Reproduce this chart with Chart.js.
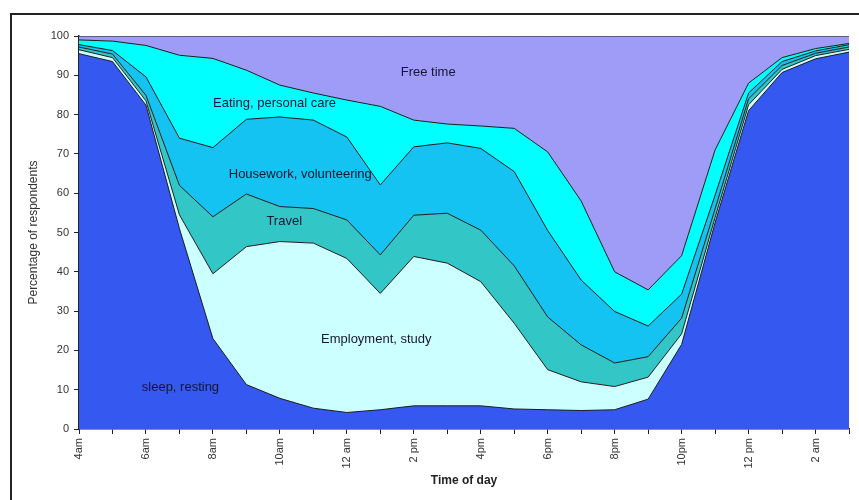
<!DOCTYPE html>
<html>
<head>
<meta charset="utf-8">
<script src="https://cdn.jsdelivr.net/npm/chart.js@4/dist/chart.umd.min.js"></script>
<style>
  html, body { margin: 0; padding: 0; background: #fff; overflow: hidden; }
  #wrap { position: relative; width: 859px; height: 500px; }
  #frame { position: absolute; left: 10px; top: 13px; width: 900px; height: 600px; border: 2px solid #222; box-sizing: border-box; }
  canvas { position: absolute; left: 0; top: 0; }
</style>
</head>
<body>
<div id="wrap">
  <div id="frame"></div>
  <canvas id="timeChart" width="859" height="500"></canvas>
</div>
<script>
// hourly slots, 4am through 3am
const hours = ['4am', '5am', '6am', '7am', '8am', '9am', '10am', '11am', '12 am', '1 pm', '2 pm', '3pm',
    '4pm', '5pm', '6pm', '7pm', '8pm', '9pm', '10pm', '11pm', '12 pm', '1 am', '2 am', '3am'];

// percentage of respondents in each activity (stacked, bottom to top)
const sleepResting = [95.5, 93.5, 82.4, 51.0, 23.0, 11.3, 7.8, 5.3, 4.2, 4.9, 5.9, 5.9,
    5.9, 5.1, 4.9, 4.7, 4.9, 7.6, 21.5, 52.5, 81.0, 90.7, 94.2, 95.9];
const employmentStudy = [1.0, 1.0, 1.1, 3.5, 16.5, 35.1, 39.9, 42.0, 39.2, 29.6, 38.0, 36.3,
    31.6, 21.8, 10.2, 7.3, 5.9, 5.6, 2.7, 1.3, 1.5, 0.8, 0.8, 0.7];
const travel = [0.7, 0.9, 1.4, 7.5, 14.5, 13.4, 8.9, 8.8, 9.8, 9.8, 10.5, 12.7,
    13.1, 14.6, 13.4, 9.4, 6.0, 5.2, 4.0, 2.2, 1.5, 1.0, 0.6, 0.6];
const houseworkVolunteering = [0.6, 0.9, 4.7, 12.0, 17.6, 19.0, 22.8, 22.5, 21.1, 17.8, 17.4, 17.9,
    20.8, 24.0, 22.0, 16.5, 13.1, 7.8, 6.1, 3.5, 1.5, 1.0, 0.6, 0.6];
const eatingPersonalCare = [1.2, 2.4, 8.0, 21.1, 22.7, 12.5, 8.1, 6.9, 9.4, 20.0, 6.8, 4.8,
    5.7, 11.0, 20.0, 20.1, 10.1, 9.2, 9.8, 11.5, 2.5, 1.0, 0.6, 0.3];
const freeTime = [1.0, 1.3, 2.4, 4.9, 5.7, 8.7, 12.5, 14.5, 16.3, 17.9, 21.4, 22.4,
    22.9, 23.5, 29.5, 42.0, 60.0, 64.6, 55.9, 29.0, 12.0, 5.5, 3.2, 1.9];

const seriesNames = ['sleep, resting', 'Employment, study', 'Travel', 'Housework, volunteering',
    'Eating, personal care', 'Free time'];
const seriesData = [sleepResting, employmentStudy, travel, houseworkVolunteering, eatingPersonalCare, freeTime];
const seriesColors = ['#3558f0', '#ccffff', '#33c6c6', '#14c3f2', '#00ffff', '#9f9cf7'];

// where each name sits inside its band (hour index, percent)
const bandLabels = [
    { text: 'Free time', at: [10.43, 90.8] },
    { text: 'Eating, personal care', at: [5.84, 82.9] },
    { text: 'Housework, volunteering', at: [6.61, 64.9] },
    { text: 'Travel', at: [6.13, 52.9] },
    { text: 'Employment, study', at: [8.88, 22.9] },
    { text: 'sleep, resting', at: [3.03, 10.6] }
];

const labelPlugin = {
    id: 'bandLabels',
    afterDatasetsDraw(chart) {
        const ctx = chart.ctx;
        const x = chart.scales.x, y = chart.scales.y;
        ctx.save();
        ctx.font = '13px "Liberation Sans", Arial, sans-serif';
        ctx.fillStyle = '#151535';
        ctx.textAlign = 'center';
        ctx.textBaseline = 'middle';
        bandLabels.forEach(l => {
            ctx.fillText(l.text, x.getPixelForValue(l.at[0]), y.getPixelForValue(l.at[1]));
        });
        ctx.restore();
    }
};

const datasets = seriesData.map((d, i) => ({
    label: seriesNames[i],
    data: d,
    backgroundColor: seriesColors[i],
    borderColor: '#1c1c1c',
    borderWidth: 1,
    pointRadius: 0,
    tension: 0,
    fill: i === 0 ? 'origin' : '-1'
}));

const ctx = document.getElementById('timeChart').getContext('2d');
const chart = new Chart(ctx, {
    type: 'line',
    data: { labels: hours, datasets: datasets },
    options: {
        responsive: false,
        animation: false,
        layout: { padding: { left: 22, right: 6, top: 36, bottom: 0 } },
        plugins: { legend: { display: false }, tooltip: { enabled: false } },
        scales: {
            x: {
                offset: false,
                afterFit: s => { s.height = 71; s.paddingRight = 10; s.paddingLeft = 0; },
                grid: { drawOnChartArea: false, drawTicks: true, tickLength: 5, color: '#222' },
                border: { display: true, color: '#222', width: 1.5 },
                ticks: {
                    autoSkip: false, minRotation: 90, maxRotation: 90, padding: 4,
                    color: '#333', font: { size: 11, family: '"Liberation Sans", Arial, sans-serif' },
                    callback: (v, i) => (i % 2 === 0 ? hours[i] : '')
                },
                title: {
                    display: true, text: 'Time of day', color: '#222',
                    font: { size: 12, weight: 'bold', family: '"Liberation Sans", Arial, sans-serif' },
                    padding: { top: 4, bottom: 12 }
                }
            },
            y: {
                stacked: true,
                min: 0, max: 100,
                afterFit: s => { s.width = 57; },
                grid: { drawOnChartArea: false, drawTicks: true, tickLength: 5, color: '#222' },
                border: { display: true, color: '#222', width: 1.5 },
                ticks: {
                    stepSize: 10, padding: 5, color: '#333',
                    font: { size: 11, family: '"Liberation Sans", Arial, sans-serif' }
                },
                title: {
                    display: true, text: 'Percentage of respondents', color: '#333',
                    font: { size: 12, family: '"Liberation Sans", Arial, sans-serif' },
                    padding: { top: 4, bottom: 4 }
                }
            }
        }
    },
    plugins: [labelPlugin]
});
</script>
</body>
</html>
